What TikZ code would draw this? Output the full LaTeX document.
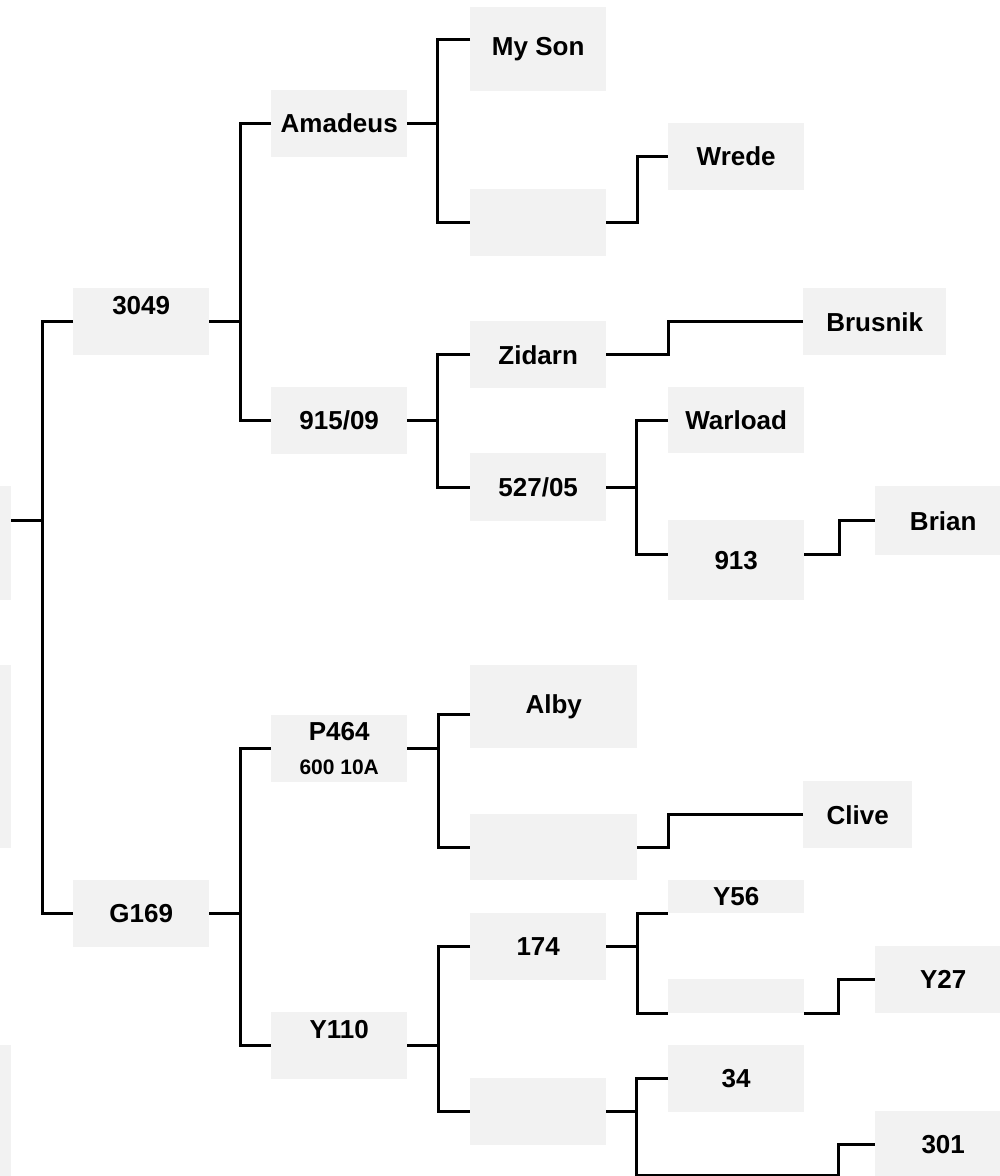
\documentclass[tikz,border=0pt]{standalone}
\usepackage{fontspec}
\setmainfont{Liberation Sans}
\usepackage{tikz}
\usetikzlibrary{positioning, calc}
\definecolor{pedgray}{RGB}{242, 242, 242}
\definecolor{pedline}{RGB}{0, 0, 0}
\tikzset{
  pbox/.style={rectangle, fill=pedgray, draw=none, anchor=north west, inner sep=0pt,
               minimum width=#1, minimum height=67pt, align=center,
               font=\bfseries\fontsize{26}{33}\selectfont},
  pbox/.default=136pt,
  link/.style={draw=pedline, line width=3pt},
}
\newcommand{\sublabel}[1]{{\fontsize{21}{21}\selectfont #1}}

\begin{document}
\begin{tikzpicture}[x=1pt, y=-1pt]
  \useasboundingbox (0,0) rectangle (1000,1176);
  \clip (0,0) rectangle (1000,1176);

  % root column, cut off at the left edge
  \node[pbox, minimum height=114pt] (root1) at (-125,486) {};
  \node[pbox, minimum height=183pt] (root2) at (-125,665) {};
  \node[pbox, minimum height=140pt] (root3) at (-125,1045) {};

  \node[pbox] (s3049) at (73,288) {3049\\\phantom{0}};
  \node[pbox] (g169) at (73,880) {G169};

  \node[pbox] (amadeus) at (271,90) {Amadeus};
  \node[pbox] (s91509) at (271,387) {915/09};
  \node[pbox] (p464) at (271,715) {P464\\[1pt]\sublabel{600 10A}};
  \node[pbox] (y110) at (271,1012) {Y110\\\phantom{0}};

  \node[pbox, minimum height=84pt] (myson) at (470,7) {My Son};
  \node[pbox] (blank1) at (470,189) {};
  \node[pbox] (zidarn) at (470,321) {Zidarn};
  \node[pbox, minimum height=68pt] (s52705) at (470,453) {527/05};
  \node[pbox=167pt, minimum height=83pt] (alby) at (470,665) {Alby};
  \node[pbox=167pt, minimum height=66pt] (blank2) at (470,814) {};
  \node[pbox] (s174) at (470,913) {174};
  \node[pbox] (blank3) at (470,1078) {};

  \node[pbox] (wrede) at (668,123) {Wrede};
  \node[pbox, minimum height=66pt] (warload) at (668,387) {Warload};
  \node[pbox, minimum height=80pt] (s913) at (668,520) {913};
  \node[pbox, minimum height=33pt] (y56) at (668,880) {Y56};
  \node[pbox, minimum height=34pt] (blank4) at (668,979) {};
  \node[pbox] (s34) at (668,1045) {34};

  \node[pbox=143pt] (brusnik) at (803,288) {Brusnik};
  \node[pbox, minimum height=69pt] (brian) at (875,486) {Brian};
  \node[pbox=109pt] (clive) at (803,781) {Clive};
  \node[pbox] (y27) at (875,946) {Y27};
  \node[pbox] (s301) at (875,1111) {301};

  \coordinate (low) at (838,1175);

  % brackets
  \draw[link] ([yshift=23pt]root1.east) -- ++(31,0);
  \draw[link] (s3049.west) -- ++(-31,0) |- (g169.west);

  \draw[link] (s3049.east) -- ++(31,0);
  \draw[link] (amadeus.west) -- ++(-31,0) |- (s91509.west);
  \draw[link] (g169.east) -- ++(31,0);
  \draw[link] (p464.west) -- ++(-31,0) |- (y110.west);

  \draw[link] (amadeus.east) -- ++(30,0);
  \draw[link] ([yshift=10pt]myson.west) -- ++(-33,0) |- (blank1.west);
  \draw[link] (s91509.east) -- ++(30,0);
  \draw[link] (zidarn.west) -- ++(-33,0) |- (s52705.west);
  \draw[link] (p464.east) -- ++(31,0);
  \draw[link] ([yshift=-8pt]alby.west) -- ++(-32,0) |- (blank2.west);
  \draw[link] (y110.east) -- ++(31,0);
  \draw[link] (s174.west) -- ++(-32,0) |- (blank3.west);

  \draw[link] (blank1.east) -- ++(31,0) |- (wrede.west);
  \draw[link] (zidarn.east) -- ++(62,0) |- (brusnik.west);
  \draw[link] (s52705.east) -- ++(30,0);
  \draw[link] (warload.west) -- ++(-32,0) |- ([yshift=6pt]s913.west);
  \draw[link] (blank2.east) -- ++(31,0) |- (clive.west);
  \draw[link] (s174.east) -- ++(31,0);
  \draw[link] (y56.south west) -- ++(-31,0) |- (blank4.south west);
  \draw[link] (blank3.east) -- ++(30,0);
  \draw[link] (s34.west) -- ++(-32,0) |- (low) |- (s301.west);

  \draw[link] ([yshift=6pt]s913.east) -- ++(35,0) |- (brian.west);
  \draw[link] (blank4.south east) -- ++(34,0) |- (y27.west);
\end{tikzpicture}
\end{document}
